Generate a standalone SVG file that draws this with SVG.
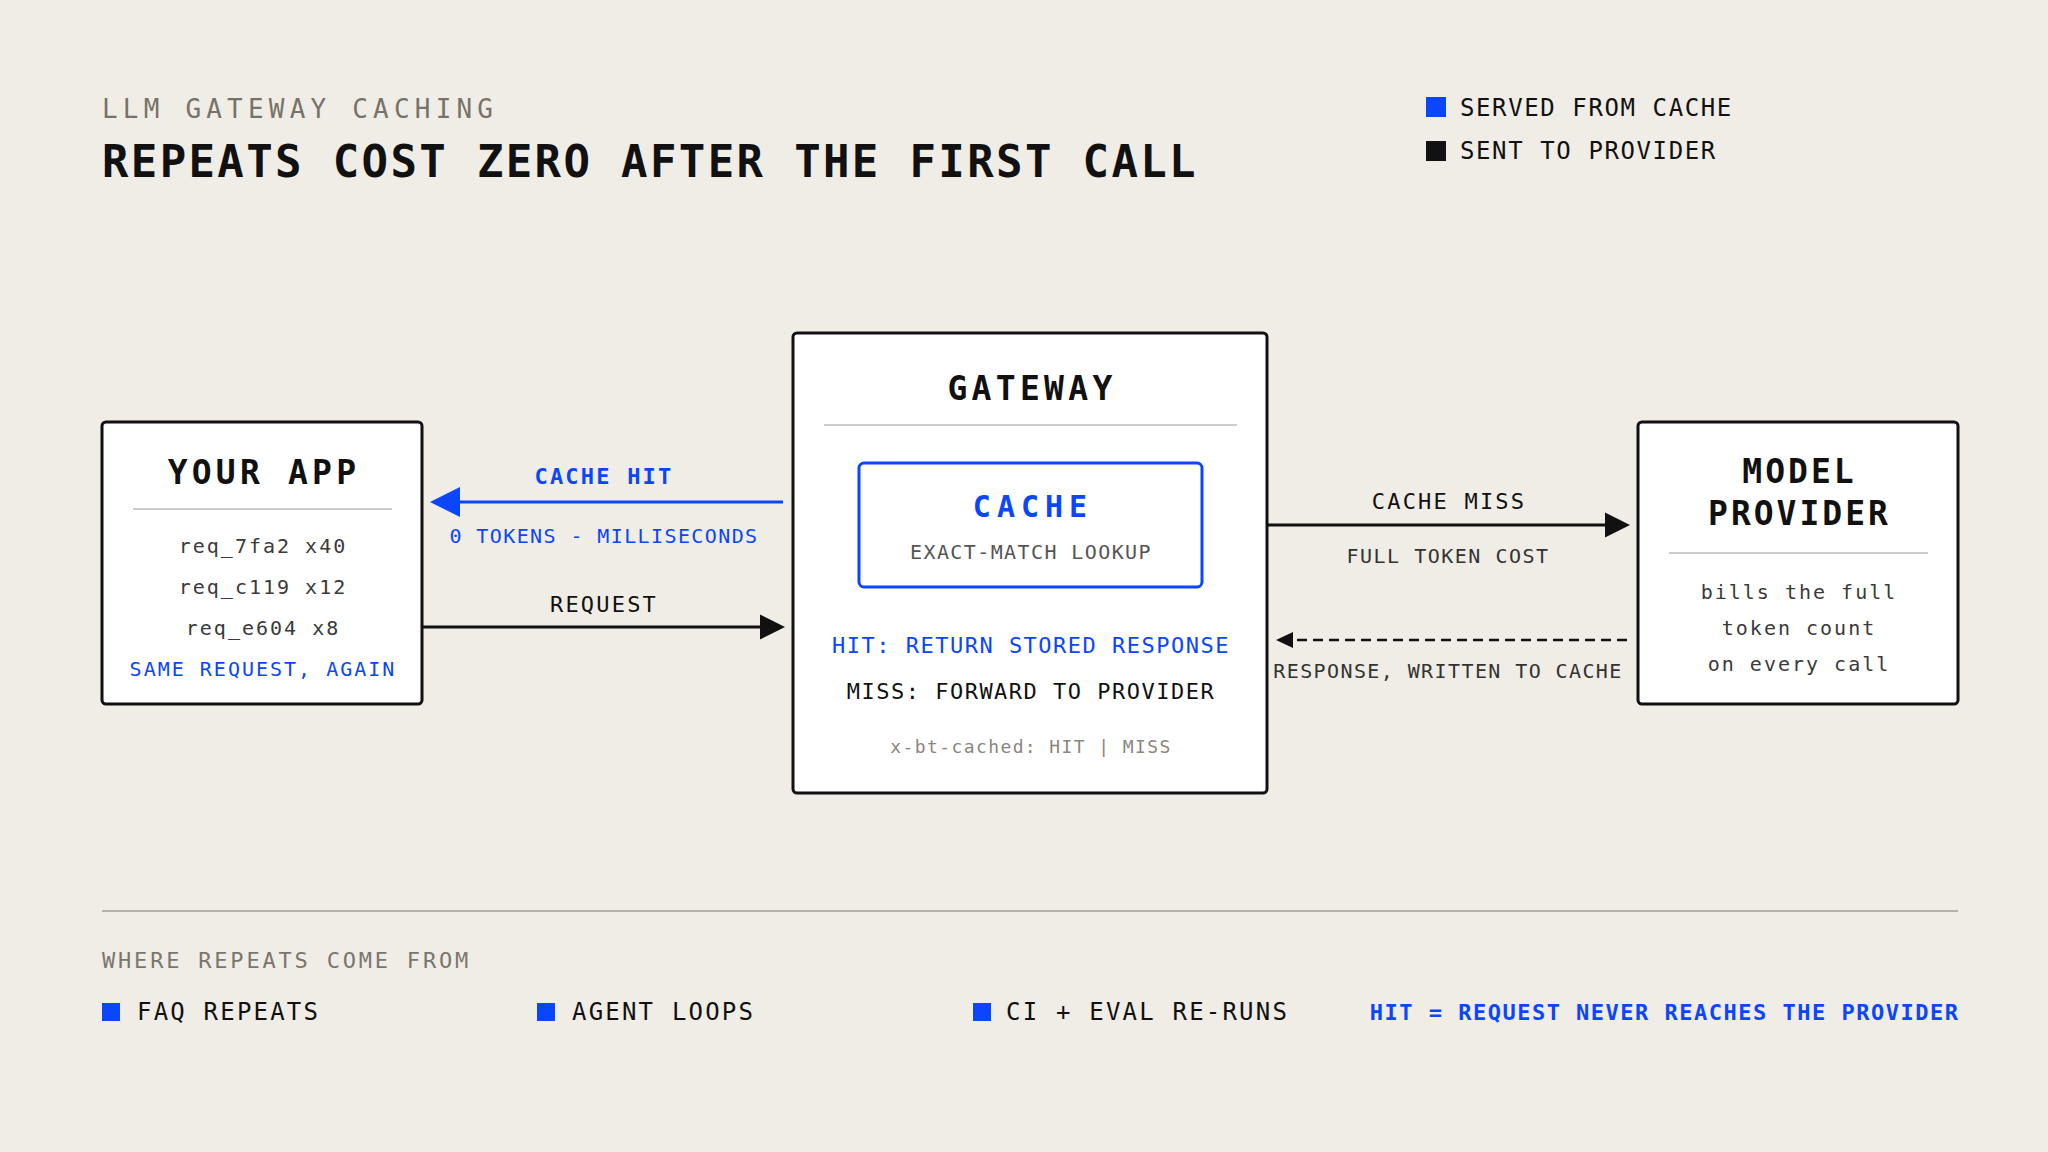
<svg xmlns="http://www.w3.org/2000/svg" width="2048" height="1152" viewBox="0 0 2048 1152">
<defs>
<style>
text{font-family:"DejaVu Sans Mono","Liberation Mono",monospace;}
.box{fill:#ffffff;stroke:#111111;stroke-width:3;}
.div{stroke:#cfcccc;stroke-width:2;}
.blue{fill:#0a46fb;}
.ink{fill:#111111;}
.ttl{font-size:33px;font-weight:bold;fill:#111111;text-anchor:middle;}
.body{font-size:20px;letter-spacing:2px;fill:#3a3a3a;text-anchor:middle;}
.lbl{font-size:22px;letter-spacing:2.2px;text-anchor:middle;}
.sub{font-size:20px;letter-spacing:1.4px;text-anchor:middle;}
.item{font-size:24px;letter-spacing:2.2px;fill:#111111;}
</style>
</defs>
<rect width="2048" height="1152" fill="#f0ede6"/>

<g id="header">
<text x="102" y="118" style="font-size:26px;letter-spacing:5.2px;fill:#77736b;">LLM GATEWAY CACHING</text>
<text x="102" y="177" style="font-size:44px;font-weight:bold;letter-spacing:2.35px;fill:#111111;">REPEATS COST ZERO AFTER THE FIRST CALL</text>
</g>

<g id="legend">
<rect x="1426" y="97" width="20" height="20" class="blue"/>
<text x="1460" y="116" style="font-size:24px;letter-spacing:1.6px;fill:#111111;">SERVED FROM CACHE</text>
<rect x="1426" y="141" width="20" height="20" class="ink"/>
<text x="1460" y="159" style="font-size:24px;letter-spacing:1.6px;fill:#111111;">SENT TO PROVIDER</text>
</g>

<g id="your-app">
<rect x="102" y="422" width="320" height="282" rx="4" class="box"/>
<text x="264" y="484" class="ttl" style="letter-spacing:4.2px;">YOUR APP</text>
<line x1="133" y1="509" x2="392" y2="509" class="div"/>
<text x="263" y="553" class="body">req_7fa2 x40</text>
<text x="263" y="594" class="body">req_c119 x12</text>
<text x="263" y="635" class="body">req_e604 x8</text>
<text x="263" y="676" class="body" style="fill:#0a46fb;">SAME REQUEST, AGAIN</text>
</g>

<g id="gateway">
<rect x="793" y="333" width="474" height="460" rx="4" class="box"/>
<text x="1032" y="400" class="ttl" style="letter-spacing:4.3px;">GATEWAY</text>
<line x1="824" y1="425" x2="1237" y2="425" class="div"/>
<g id="cache">
<rect x="859" y="463" width="343" height="124" rx="5" style="fill:#ffffff;stroke:#0a46fb;stroke-width:3;"/>
<text x="1033" y="517" style="font-size:30px;font-weight:bold;letter-spacing:6px;fill:#0a46fb;text-anchor:middle;">CACHE</text>
<text x="1031" y="559" class="sub" style="fill:#555555;">EXACT-MATCH LOOKUP</text>
</g>
<text x="1031" y="653" style="font-size:22px;letter-spacing:1.5px;fill:#0a46fb;text-anchor:middle;">HIT: RETURN STORED RESPONSE</text>
<text x="1031" y="699" style="font-size:22px;letter-spacing:1.5px;fill:#111111;text-anchor:middle;">MISS: FORWARD TO PROVIDER</text>
<text x="1031" y="753" style="font-size:18px;letter-spacing:1.4px;fill:#8a8680;text-anchor:middle;">x-bt-cached: HIT | MISS</text>
</g>

<g id="model-provider">
<rect x="1638" y="422" width="320" height="282" rx="4" class="box"/>
<text x="1799.5" y="483" class="ttl" style="letter-spacing:3px;">MODEL</text>
<text x="1799.5" y="525" class="ttl" style="letter-spacing:3px;">PROVIDER</text>
<line x1="1669" y1="553" x2="1928" y2="553" class="div"/>
<text x="1799" y="599" class="body">bills the full</text>
<text x="1799" y="635" class="body">token count</text>
<text x="1799" y="671" class="body">on every call</text>
</g>

<g id="connectors">
<g id="cache-hit">
<line x1="458" y1="502" x2="783" y2="502" style="stroke:#0a46fb;stroke-width:3;"/>
<polygon points="430,502 460,487 460,517" class="blue"/>
<text x="604" y="484" class="lbl" style="font-weight:bold;fill:#0a46fb;">CACHE HIT</text>
<text x="604" y="543" class="sub" style="fill:#0a46fb;">0 TOKENS - MILLISECONDS</text>
</g>
<g id="request">
<line x1="422" y1="627" x2="762" y2="627" style="stroke:#111111;stroke-width:3;"/>
<polygon points="785,627 760,614.5 760,639.5" class="ink"/>
<text x="604" y="612" class="lbl" style="fill:#111111;">REQUEST</text>
</g>
<g id="cache-miss">
<line x1="1267" y1="525" x2="1607" y2="525" style="stroke:#111111;stroke-width:3;"/>
<polygon points="1630,525 1605,512.5 1605,537.5" class="ink"/>
<text x="1449" y="509" class="lbl" style="fill:#111111;">CACHE MISS</text>
<text x="1448" y="563" class="sub" style="letter-spacing:1.5px;fill:#333333;">FULL TOKEN COST</text>
</g>
<g id="response">
<line x1="1627" y1="640" x2="1292" y2="640" style="stroke:#111111;stroke-width:2.5;stroke-dasharray:10 6;"/>
<polygon points="1276,640 1293,632 1293,648" class="ink"/>
<text x="1448" y="678" class="sub" style="fill:#333333;">RESPONSE, WRITTEN TO CACHE</text>
</g>
</g>

<g id="footer">
<line x1="102" y1="911" x2="1958" y2="911" style="stroke:#b5b1aa;stroke-width:2;"/>
<text x="102" y="968" style="font-size:22px;letter-spacing:2.8px;fill:#7a766e;">WHERE REPEATS COME FROM</text>
<rect x="102" y="1003" width="18" height="18" class="blue"/>
<text x="137" y="1020" class="item">FAQ REPEATS</text>
<rect x="537" y="1003" width="18" height="18" class="blue"/>
<text x="572" y="1020" class="item">AGENT LOOPS</text>
<rect x="973" y="1003" width="18" height="18" class="blue"/>
<text x="1006" y="1020" class="item">CI + EVAL RE-RUNS</text>
<text x="1959.5" y="1020" style="font-size:22px;font-weight:bold;letter-spacing:1.5px;fill:#0a46fb;text-anchor:end;">HIT = REQUEST NEVER REACHES THE PROVIDER</text>
</g>
</svg>
